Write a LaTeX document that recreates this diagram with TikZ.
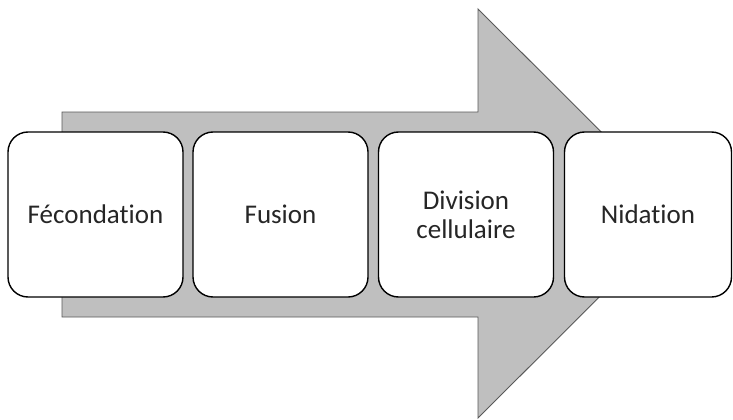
\documentclass[tikz,border=0pt]{standalone}
\usepackage{fontspec}
\setmainfont[Ligatures={NoCommon}]{Carlito}
\begin{document}
\begin{tikzpicture}[x=1pt,y=-1pt,
  stagebox/.style={draw=black, line width=1.4pt, fill=white, rounded corners=20pt,
    minimum width=175pt, minimum height=165pt, inner sep=0pt, align=center,
    font=\fontsize{27}{29}\selectfont, text=black!85},
  bigarrow/.style={draw=black!65, line width=0.9pt, fill=black!25}]
\useasboundingbox (0,0) rectangle (733,420);
\draw[bigarrow] (62,112) -- (478,112) -- (478,9) -- (683,213.5) -- (478,418) -- (478,317) -- (62,317) -- cycle;
\node[stagebox] (f) at (95.5,214.5) {Fécondation};
\node[stagebox] (u) at (280.5,214.5) {Fusion};
\node[stagebox] (d) at (466,214.5) {Division\\cellulaire};
\node[stagebox, minimum width=167pt] (n) at (648,214.5) {Nidation};
\end{tikzpicture}
\end{document}
